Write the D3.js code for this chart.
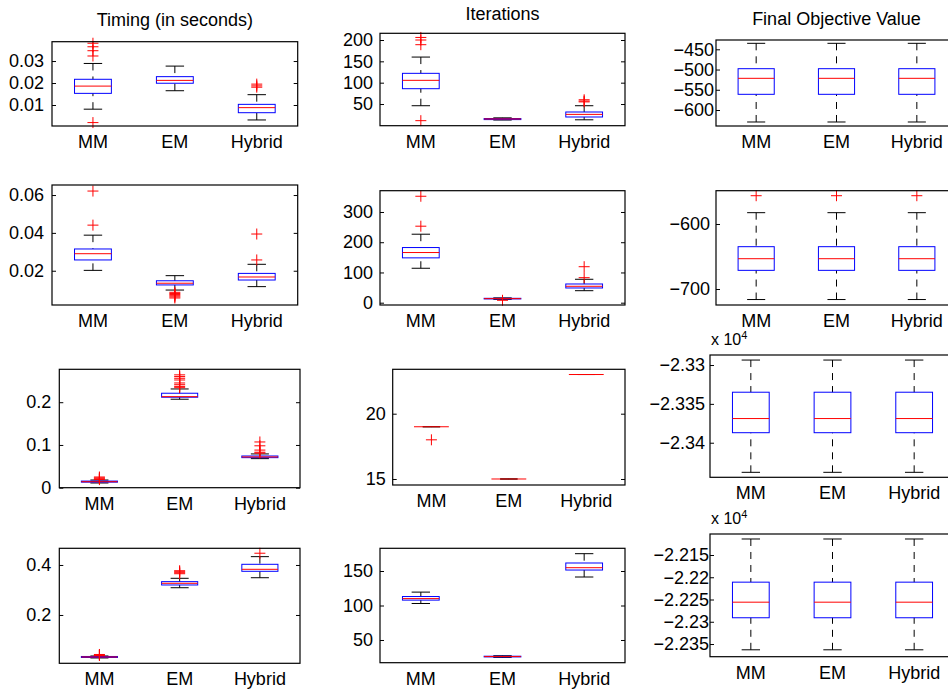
<!DOCTYPE html>
<html>
<head>
<meta charset="utf-8">
<script src="https://cdn.jsdelivr.net/npm/d3@7/dist/d3.min.js"></script>
<style>
  body { margin: 0; background: #fff; }
  svg { display: block; }
  text { font-family: "Liberation Sans", Arial, Helvetica, sans-serif; fill: #000; }
</style>
</head>
<body>
<svg id="chart" width="948" height="690"></svg>
<script>
// ---- data ---------------------------------------------------------------
const categories = ["MM", "EM", "Hybrid"];
const columnTitles = ["Timing (in seconds)", "Iterations", "Final Objective Value"];

// Each method: [lower whisker, Q1, median, Q3, upper whisker]
// Run 1
const timing1 = [[0.0081, 0.0153, 0.0186, 0.0217, 0.0289], [0.0165, 0.0199, 0.0212, 0.0229, 0.0277], [0.0032, 0.0065, 0.0088, 0.0103, 0.0147]];
const timing1Outliers = [[0.0381, 0.0365, 0.0347, 0.0323, 0.0020], [], [0.0195, 0.0187, 0.0181]];
const timing1Limits = [0.00045, 0.0388];
const timing1Ticks = [0.01, 0.02, 0.03];

const iter1 = [[46, 85.9, 105.5, 121.9, 160], [12.5, 13.5, 15, 16, 17.6], [13, 19.6, 25.7, 31.3, 46]];
const iter1Outliers = [[206, 200, 189, 11], [], [60, 57, 55]];
const iter1Limits = [-0.8, 215.7];
const iter1Ticks = [50, 100, 150, 200];

const obj1 = [[-629.6, -561.2, -521.7, -497.9, -435.2], [-629.6, -561.2, -521.7, -497.9, -435.2], [-629.6, -561.2, -521.7, -497.9, -435.2]];
const obj1Outliers = [[], [], []];
const obj1Limits = [-639.5, -427];
const obj1Ticks = [-600, -550, -500, -450];

// Run 2
const timing2 = [[0.0202, 0.0257, 0.0290, 0.0315, 0.0388], [0.0098, 0.0125, 0.0134, 0.0147, 0.0174], [0.0116, 0.0151, 0.0167, 0.0186, 0.0234]];
const timing2Outliers = [[0.0621, 0.0441], [0.0086, 0.0080, 0.0074, 0.0068, 0.0062, 0.0056], [0.0257, 0.0394]];
const timing2Limits = [0.0019, 0.0653];
const timing2Ticks = [0.02, 0.04, 0.06];

const iter2 = [[113.9, 148.3, 165.9, 182.4, 226.5], [11, 12.5, 13.5, 14.5, 16], [39.7, 48.7, 54.3, 61.9, 77.5]];
const iter2Outliers = [[352, 253], [8], [82.8, 119]];
const iter2Limits = [-7.6, 370.4];
const iter2Ticks = [0, 100, 200, 300];

const obj2 = [[-716.2, -671.3, -653.4, -634.9, -582.6], [-716.2, -671.3, -653.4, -634.9, -582.6], [-716.2, -671.3, -653.4, -634.9, -582.6]];
const obj2Outliers = [[-556.5], [-556.5], [-556.5]];
const obj2Limits = [-724.6, -548.8];
const obj2Ticks = [-700, -600];

// Run 3
const timing3 = [[0.011, 0.013, 0.014, 0.0155, 0.018], [0.207, 0.2117, 0.213, 0.221, 0.231], [0.068, 0.0703, 0.072, 0.0742, 0.079]];
const timing3Outliers = [[0.019, 0.021, 0.023, 0.025], [0.264, 0.260, 0.256, 0.252, 0.245, 0.241, 0.237, 0.234], [0.107, 0.098, 0.088, 0.083, 0.081]];
const timing3Limits = [0, 0.277];
const timing3Ticks = [0, 0.1, 0.2];

const iter3 = [[19, 19, 19, 19, 19], [15, 15, 15, 15, 15], [23, 23, 23, 23, 23]];
const iter3Outliers = [[18], [], []];
const iter3Limits = [14.54, 23.4];
const iter3Ticks = [15, 20];

// objective values in units of 10^4
const obj3 = [[-2.34381, -2.33871, -2.33689, -2.33350, -2.32936], [-2.34381, -2.33871, -2.33689, -2.33350, -2.32936], [-2.34381, -2.33871, -2.33689, -2.33350, -2.32936]];
const obj3Outliers = [[], [], []];
const obj3Limits = [-2.34445, -2.32871];
const obj3Ticks = [-2.34, -2.335, -2.33];

// Run 4
const timing4 = [[0.028, 0.030, 0.032, 0.034, 0.036], [0.309, 0.320, 0.3267, 0.3333, 0.3467], [0.349, 0.3747, 0.3827, 0.4027, 0.4333]];
const timing4Outliers = [[0.038, 0.040, 0.042], [0.365, 0.369, 0.373, 0.377], [0.447]];
const timing4Limits = [0.0067, 0.4667];
const timing4Ticks = [0.2, 0.4];

const iter4 = [[102.9, 107.8, 110, 113, 119.4], [24.8, 25.5, 26, 26.5, 27.2], [141.3, 151.4, 154.8, 161.6, 175.1]];
const iter4Outliers = [[], [], []];
const iter4Limits = [17.1, 182.9];
const iter4Ticks = [50, 100, 150];

// objective values in units of 10^4
const obj4 = [[-2.2363, -2.2291, -2.2256, -2.2211, -2.2114], [-2.2363, -2.2291, -2.2256, -2.2211, -2.2114], [-2.2363, -2.2291, -2.2256, -2.2211, -2.2114]];
const obj4Outliers = [[], [], []];
const obj4Limits = [-2.23785, -2.21028];
const obj4Ticks = [-2.235, -2.23, -2.225, -2.22, -2.215];

// ---- layout (axes rectangles: left, top, right, bottom) -------------------
const panels = [
  { stats: timing1, out: timing1Outliers, lim: timing1Limits, ticks: timing1Ticks, box: [52, 41.7, 297.7, 126], gap: 8 },
  { stats: iter1, out: iter1Outliers, lim: iter1Limits, ticks: iter1Ticks, box: [380, 33.3, 625, 125.7], gap: 7 },
  { stats: obj1, out: obj1Outliers, lim: obj1Limits, ticks: obj1Ticks, box: [716, 40, 957, 126], gap: 2 },
  { stats: timing2, out: timing2Outliers, lim: timing2Limits, ticks: timing2Ticks, box: [52, 185, 297.7, 305], gap: 8 },
  { stats: iter2, out: iter2Outliers, lim: iter2Limits, ticks: iter2Ticks, box: [380, 190.7, 625, 305], gap: 7 },
  { stats: obj2, out: obj2Outliers, lim: obj2Limits, ticks: obj2Ticks, box: [716, 190.7, 957, 305], gap: 6 },
  { stats: timing3, out: timing3Outliers, lim: timing3Limits, ticks: timing3Ticks, box: [59.3, 369.3, 300, 487.7], gap: 8 },
  { stats: iter3, out: iter3Outliers, lim: iter3Limits, ticks: iter3Ticks, box: [392.7, 369.3, 625, 485], gap: 7 },
  { stats: obj3, out: obj3Outliers, lim: obj3Limits, ticks: obj3Ticks, box: [710, 355, 955, 477.3], gap: 5, exponent: 4 },
  { stats: timing4, out: timing4Outliers, lim: timing4Limits, ticks: timing4Ticks, box: [59.3, 548.3, 300, 663.3], gap: 8 },
  { stats: iter4, out: iter4Outliers, lim: iter4Limits, ticks: iter4Ticks, box: [380, 548.3, 625, 662.7], gap: 7 },
  { stats: obj4, out: obj4Outliers, lim: obj4Limits, ticks: obj4Ticks, box: [710, 534, 955, 656.7], gap: 1, exponent: 4 }
];
const titleBaselines = [26, 20, 25];

const svg = d3.select("#chart");

const fmt = d => {
  const v = +d.toPrecision(6);
  return (v < 0 ? "\u2212" : "") + String(Math.abs(v));
};

panels.forEach((p, i) => {
  const [L, T, R, B] = p.box;
  const x = d3.scaleBand().domain(categories).range([L, R]).paddingInner(0).paddingOuter(0);
  const y = d3.scaleLinear().domain(p.lim).range([B, T]);
  const bw = x.bandwidth();
  const boxW = bw * 0.45;
  const capW = boxW * 0.5;
  const g = svg.append("g");

  // column title over the first row
  if (i < 3) {
    g.append("text")
      .attr("x", (L + Math.min(R, 957)) / 2)
      .attr("y", titleBaselines[i])
      .attr("text-anchor", "middle")
      .style("font-size", "18px")
      .text(columnTitles[i]);
  }

  // y tick labels on the left, small inward ticks on both sides
  const left = d3.axisLeft(y).tickValues(p.ticks).tickFormat(fmt).tickSizeInner(-4).tickSizeOuter(0).tickPadding(p.gap);
  const gl = g.append("g").attr("transform", `translate(${L},0)`).call(left);
  gl.select(".domain").remove();
  gl.selectAll("text").style("font-size", "18px").attr("fill", "#000");
  gl.selectAll("line").attr("stroke", "#000");

  const right = d3.axisRight(y).tickValues(p.ticks).tickFormat("").tickSizeInner(-4).tickSizeOuter(0);
  const gr = g.append("g").attr("transform", `translate(${R},0)`).call(right);
  gr.select(".domain").remove();
  gr.selectAll("line").attr("stroke", "#000");

  // exponent label for scaled axes
  if (p.exponent) {
    const t = g.append("text").attr("x", L + 1).attr("y", T - 10).style("font-size", "16px");
    t.append("tspan").text("x 10");
    t.append("tspan").attr("dy", -6).style("font-size", "11px").text(p.exponent);
  }

  // boxes
  categories.forEach((c, k) => {
    const [lo, q1, med, q3, hi] = p.stats[k];
    const cx = x(c) + bw / 2;
    const bg = g.append("g");
    // dashed whiskers
    bg.append("line").attr("x1", cx).attr("x2", cx).attr("y1", y(hi)).attr("y2", y(q3))
      .attr("stroke", "#000").attr("stroke-dasharray", "7,6");
    bg.append("line").attr("x1", cx).attr("x2", cx).attr("y1", y(lo)).attr("y2", y(q1))
      .attr("stroke", "#000").attr("stroke-dasharray", "7,6");
    // caps
    bg.append("line").attr("x1", cx - capW / 2).attr("x2", cx + capW / 2).attr("y1", y(hi)).attr("y2", y(hi)).attr("stroke", "#000");
    bg.append("line").attr("x1", cx - capW / 2).attr("x2", cx + capW / 2).attr("y1", y(lo)).attr("y2", y(lo)).attr("stroke", "#000");
    // box
    bg.append("rect").attr("x", cx - boxW / 2).attr("width", boxW)
      .attr("y", y(q3)).attr("height", Math.max(0, y(q1) - y(q3)))
      .attr("fill", "none").attr("stroke", "#0000ff");
    // median
    bg.append("line").attr("x1", cx - boxW / 2).attr("x2", cx + boxW / 2).attr("y1", y(med)).attr("y2", y(med))
      .attr("stroke", "#ff0000");
    // outliers
    bg.selectAll("path.out").data(p.out[k]).join("path").attr("class", "out")
      .attr("d", v => `M${cx - 5.5},${y(v)}H${cx + 5.5}M${cx},${y(v) - 5.5}V${y(v) + 5.5}`)
      .attr("stroke", "#ff0000").attr("fill", "none");

    // category label
    g.append("text").attr("x", cx).attr("y", B + 22).attr("text-anchor", "middle")
      .style("font-size", "18px").text(c);
  });

  // axes frame
  g.append("rect").attr("x", L).attr("y", T).attr("width", R - L).attr("height", B - T)
    .attr("fill", "none").attr("stroke", "#000").attr("stroke-width", 1.2);
});
</script>
</body>
</html>
